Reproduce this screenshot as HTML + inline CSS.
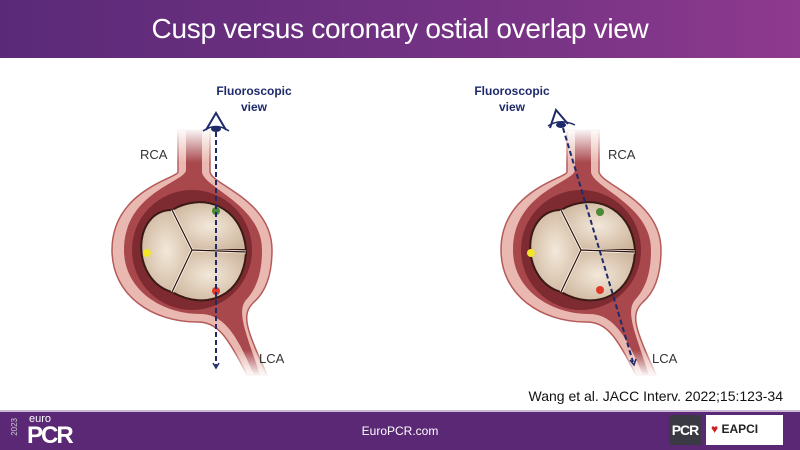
<!DOCTYPE html>
<html><head><style>
body{margin:0;width:800px;height:450px;overflow:hidden;background:#fff;font-family:"Liberation Sans",sans-serif;position:relative}
.hdr{position:absolute;left:0;top:0;width:800px;height:58px;background:linear-gradient(90deg,#5a2a78,#7a3486 70%,#8e3a8e);color:#fff;font-size:28px;letter-spacing:-0.3px;text-align:center;line-height:58px}
.ftr{position:absolute;left:0;top:412px;width:800px;height:38px;background:#5b2876;color:#fff}
.line{position:absolute;left:0;top:410px;width:800px;height:2px;background:#c9b8d6}
</style></head><body>
<div class="hdr">Cusp versus coronary ostial overlap view</div>
<svg width="800" height="450" style="position:absolute;left:0;top:0">
<defs>
<radialGradient id="lf" cx="0.5" cy="0.5" r="0.6"><stop offset="0" stop-color="#f3e8da"/><stop offset="1" stop-color="#cdb59c"/></radialGradient>
<linearGradient id="fade" x1="0" y1="0" x2="0" y2="1"><stop offset="0" stop-color="#fff" stop-opacity="1"/><stop offset="1" stop-color="#fff" stop-opacity="0"/></linearGradient>
<linearGradient id="fade2" x1="0" y1="0" x2="0" y2="1"><stop offset="0" stop-color="#fff" stop-opacity="0"/><stop offset="1" stop-color="#fff" stop-opacity="1"/></linearGradient>
<g id="valve">
<path d="M-14,-120 L-14,-78 C-14,-72 -80,-60 -80,0 C-80,45 -40,72 5,72 C25,72 35,85 55,125 L75,125 C55,80 48,65 62,52 C78,38 80,15 80,0 C80,-50 20,-65 18,-78 L18,-120 Z" fill="#e9b8b0" stroke="#b55a5a" stroke-width="1.5"/>
<path d="M-6,-120 L-6,-80 C-6,-68 -68,-58 -68,0 C-68,40 -30,64 8,64 C32,64 45,85 62,125 L68,125 C55,85 44,62 54,50 C68,35 70,15 70,0 C70,-45 12,-62 10,-78 L10,-120 Z" fill="#a8474c"/>
<circle cx="0" cy="0" r="60" fill="#7d2a30"/>
<path d="M0,0 L-20,-40 C10,-58 50,-45 54,0 Z" fill="url(#lf)" stroke="#3a1a14" stroke-width="2"/>
<path d="M0,0 L54,2 C52,45 15,62 -20,42 Z" fill="url(#lf)" stroke="#3a1a14" stroke-width="2"/>
<path d="M0,0 L-20,-40 C-60,-40 -62,30 -20,42 Z" fill="url(#lf)" stroke="#3a1a14" stroke-width="2"/>
<path d="M-20,-40 L0,0 L54,2 M0,0 L-20,42" stroke="#f8f0e4" stroke-width="3" fill="none"/>
<path d="M-20,-40 L0,0 L54,2 M0,0 L-20,42" stroke="#2a120e" stroke-width="1.2" fill="none"/>
<rect x="-20" y="-122" width="45" height="35" fill="url(#fade)"/>
<rect x="40" y="100" width="45" height="27" fill="url(#fade2)"/>
</g>
</defs>
<use href="#valve" transform="translate(192,250)"/>
<use href="#valve" transform="translate(581,250)"/>
<circle cx="216" cy="211" r="4" fill="#4a8a34"/><circle cx="147" cy="253" r="4" fill="#f2e62a"/><circle cx="216" cy="291" r="4" fill="#e0392a"/>
<circle cx="600" cy="212" r="4" fill="#4a8a34"/><circle cx="531" cy="253" r="4" fill="#f2e62a"/><circle cx="600" cy="290" r="4" fill="#e0392a"/>
<line x1="216" y1="132" x2="216" y2="366" stroke="#1e2a6a" stroke-width="2" stroke-dasharray="5,3"/>
<path d="M213,363 L216,368 L219,363" fill="none" stroke="#1e2a6a" stroke-width="1.5"/>
<line x1="563" y1="128" x2="633" y2="362" stroke="#1e2a6a" stroke-width="2" stroke-dasharray="5,3"/>
<path d="M630,360 L634,365 L636,359" fill="none" stroke="#1e2a6a" stroke-width="1.5"/>
<path d="M206,130 L216,113 L226,130" fill="none" stroke="#1e2a6a" stroke-width="2"/><path d="M203,131 Q216,122 229,131" fill="none" stroke="#1e2a6a" stroke-width="1.5"/><ellipse cx="216" cy="129" rx="5" ry="3" fill="#1e2a6a"/>
<path d="M550,128 L556,110 L568,124" fill="none" stroke="#1e2a6a" stroke-width="2"/><path d="M548,126 Q560,118 575,125" fill="none" stroke="#1e2a6a" stroke-width="1.5"/><ellipse cx="561" cy="125" rx="5" ry="3" fill="#1e2a6a"/>
<g font-family="Liberation Sans,sans-serif" font-size="12" fill="#1e2a6a" font-weight="bold" text-anchor="middle">
<text x="254" y="95">Fluoroscopic</text><text x="254" y="111">view</text>
<text x="512" y="95">Fluoroscopic</text><text x="512" y="111">view</text></g>
<g font-family="Liberation Sans,sans-serif" font-size="13" fill="#333">
<text x="140" y="159">RCA</text><text x="608" y="159">RCA</text>
<text x="259" y="363">LCA</text><text x="652" y="363">LCA</text></g>
<text x="783" y="401" text-anchor="end" font-family="Liberation Sans,sans-serif" font-size="14" fill="#111">Wang et al. JACC Interv. 2022;15:123-34</text>
</svg>
<div class="line"></div>
<div class="ftr">
<div style="position:absolute;left:10px;top:6px;font-size:8px;color:#ccc;writing-mode:vertical-rl;transform:rotate(180deg)">2023</div>
<div style="position:absolute;left:29px;top:1px;font-size:11px">euro</div>
<div style="position:absolute;left:27px;top:10px;font-size:24px;font-weight:bold;letter-spacing:-2px">PCR</div>
<div style="position:absolute;left:0;width:800px;top:12px;text-align:center;font-size:12px">EuroPCR.com</div>
<div style="position:absolute;left:669px;top:3px;width:32px;height:30px;background:#3a3a44;font-size:14px;font-weight:bold;line-height:30px;text-align:center;letter-spacing:-1px">PCR</div>
<div style="position:absolute;left:706px;top:3px;width:77px;height:30px;background:#fff;color:#222;font-size:12px;font-weight:bold;line-height:28px"><span style="color:#c22;margin-left:5px">♥</span> EAPCI</div>
</div>
</body></html>
